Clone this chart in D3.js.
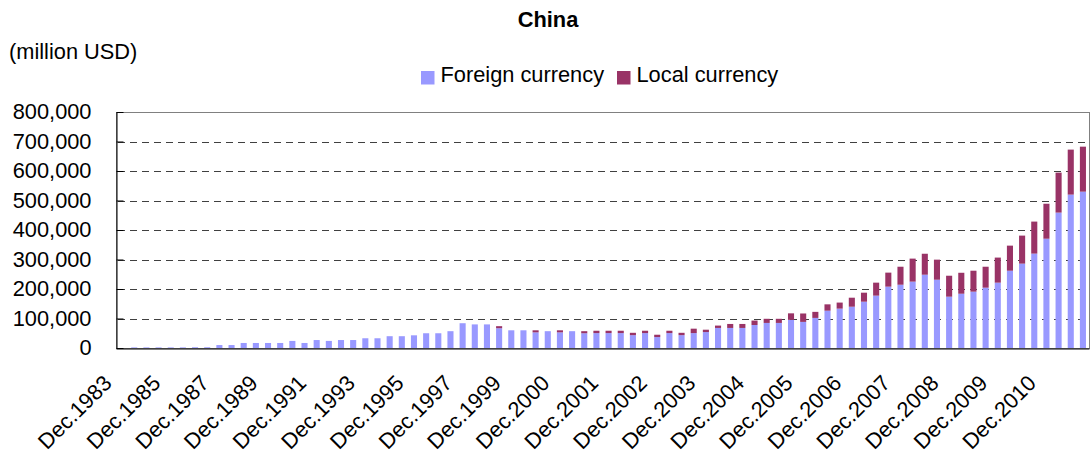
<!DOCTYPE html>
<html><head><meta charset="utf-8">
<script src="https://cdn.jsdelivr.net/npm/d3@7"></script>
<style>
body{margin:0;background:#fff;}
svg{display:block;font-family:"Liberation Sans",Arial,sans-serif;}
</style></head><body>
<svg id="chart" width="1091" height="458"></svg>
<script>
const categories = [
"Dec.1983","Jun.1984","Dec.1984","Jun.1985","Dec.1985","Jun.1986","Dec.1986","Jun.1987","Dec.1987","Jun.1988",
"Dec.1988","Jun.1989","Dec.1989","Jun.1990","Dec.1990","Jun.1991","Dec.1991","Jun.1992","Dec.1992","Jun.1993",
"Dec.1993","Jun.1994","Dec.1994","Jun.1995","Dec.1995","Jun.1996","Dec.1996","Jun.1997","Dec.1997","Jun.1998",
"Dec.1998","Jun.1999","Dec.1999","Mar.2000","Jun.2000","Sep.2000","Dec.2000","Mar.2001","Jun.2001","Sep.2001",
"Dec.2001","Mar.2002","Jun.2002","Sep.2002","Dec.2002","Mar.2003","Jun.2003","Sep.2003","Dec.2003","Mar.2004",
"Jun.2004","Sep.2004","Dec.2004","Mar.2005","Jun.2005","Sep.2005","Dec.2005","Mar.2006","Jun.2006","Sep.2006",
"Dec.2006","Mar.2007","Jun.2007","Sep.2007","Dec.2007","Mar.2008","Jun.2008","Sep.2008","Dec.2008","Mar.2009",
"Jun.2009","Sep.2009","Dec.2009","Mar.2010","Jun.2010","Sep.2010","Dec.2010","Mar.2011","Jun.2011","Sep.2011"
];
const foreignCurrency = [
0,2000,2000,2000,2000,2000,2500,2500,10000,10000,
17000,17000,17000,17000,24000,17000,27000,24000,27000,27000,
33000,33000,40000,40000,43000,50000,50000,57000,84000,80000,
80000,67000,60000,60000,53000,57000,53000,57000,50000,50500,
50500,50500,43500,50500,37000,50500,43500,50500,54000,68000,
68000,68000,78000,85000,85000,95500,88500,102000,126500,133500,
140000,157000,177500,208000,214500,225000,248500,231500,174000,184000,
191000,204500,221500,262000,286000,320000,370500,459000,520000,530000
];
const localCurrency = [
0,0,0,0,0,0,0,0,0,0,
0,0,0,0,0,0,0,0,0,0,
0,0,0,0,0,0,0,0,0,0,
0,7000,0,0,7000,0,7000,0,7000,8000,
8000,8000,8000,8000,8000,8000,8000,15000,8000,8000,
13500,13500,15000,14000,14000,22000,28500,20500,21500,20500,
30500,30500,44000,47500,61000,78000,71000,68000,71000,71000,
71000,71000,85000,85000,95000,108500,118500,135500,152500,152500
];
const yTicks = [0,100000,200000,300000,400000,500000,600000,700000,800000];
const xTickLabels = ["Dec.1983","Dec.1985","Dec.1987","Dec.1989","Dec.1991","Dec.1993","Dec.1995","Dec.1997","Dec.1999",
"Dec.2000","Dec.2001","Dec.2002","Dec.2003","Dec.2004","Dec.2005","Dec.2006","Dec.2007","Dec.2008","Dec.2009","Dec.2010"];
const seriesKeys = ["foreign","local"];
const seriesNames = ["Foreign currency","Local currency"];
const seriesColors = ["#9999FF","#993366"];

const FS = "21.8px";
const svg = d3.select("#chart");
const plot = {left:116, right:1089, top:112, bottom:348};

const x = d3.scaleBand().domain(categories).range([plot.left, plot.right]).paddingInner(0.5).paddingOuter(0.25);
const y = d3.scaleLinear().domain([0, 800000]).range([plot.bottom, plot.top]);

// plot border
svg.append("rect").attr("x", plot.left + 0.5).attr("y", plot.top + 0.5)
  .attr("width", plot.right - plot.left).attr("height", plot.bottom - plot.top)
  .attr("fill", "none").attr("stroke", "#808080").attr("stroke-width", 1);

// gridlines
svg.append("g").selectAll("line").data(yTicks.filter(v => v > 0 && v < 800000)).join("line")
  .attr("x1", plot.left + 2).attr("x2", plot.right)
  .attr("y1", d => Math.round(y(d)) + 0.5).attr("y2", d => Math.round(y(d)) + 0.5)
  .attr("stroke", "#404040").attr("stroke-width", 1).attr("stroke-dasharray", "7,5");

// stacked bars
const rows = categories.map((c, i) => ({cat: c, foreign: foreignCurrency[i], local: localCurrency[i]}));
const stacked = d3.stack().keys(seriesKeys)(rows);
svg.append("g").selectAll("g").data(stacked).join("g")
  .attr("fill", (d, i) => seriesColors[i])
  .selectAll("rect").data(d => d).join("rect")
  .attr("x", d => x(d.data.cat))
  .attr("width", x.bandwidth())
  .attr("y", d => y(d[1]))
  .attr("height", d => Math.max(0, y(d[0]) - y(d[1])));

// y axis
const yAxis = svg.append("g").attr("transform", `translate(${plot.left + 0.5},0)`)
  .call(d3.axisLeft(y).tickValues(yTicks).tickFormat(d3.format(","))
    .tickSizeInner(-7).tickSizeOuter(0).tickPadding(25));
yAxis.selectAll("text").attr("font-size", FS).attr("fill", "#000").attr("font-family", "Liberation Sans, Arial, sans-serif");
yAxis.selectAll("line,path").attr("stroke", "#000");

// x axis
const xAxis = svg.append("g").attr("transform", `translate(0,${plot.bottom + 0.5})`)
  .call(d3.axisBottom(x).tickValues(xTickLabels).tickSize(0).tickSizeOuter(0));
xAxis.select("path").attr("stroke", "#000");
xAxis.selectAll("text")
  .attr("font-size", FS).attr("fill", "#000").attr("font-family", "Liberation Sans, Arial, sans-serif")
  .attr("text-anchor", "end").attr("x", 0).attr("y", 0).attr("dy", 0)
  .attr("transform", "translate(-9,36) rotate(-45)");

// title
svg.append("text").attr("x", 548).attr("y", 27).attr("text-anchor", "middle")
  .attr("font-size", FS).attr("font-weight", "bold").text("China");
svg.append("text").attr("x", 9).attr("y", 58.5).attr("font-size", FS).text("(million USD)");

// legend
const legendX = [421, 617];
const lg = svg.append("g").selectAll("g").data(seriesNames).join("g")
  .attr("transform", (d, i) => `translate(${legendX[i]},0)`);
lg.append("rect").attr("x", 0).attr("y", 71).attr("width", 13.5).attr("height", 13.5)
  .attr("fill", (d, i) => seriesColors[i]);
lg.append("text").attr("x", 19.5).attr("y", 82).attr("font-size", FS).text(d => d);
</script>
</body></html>
